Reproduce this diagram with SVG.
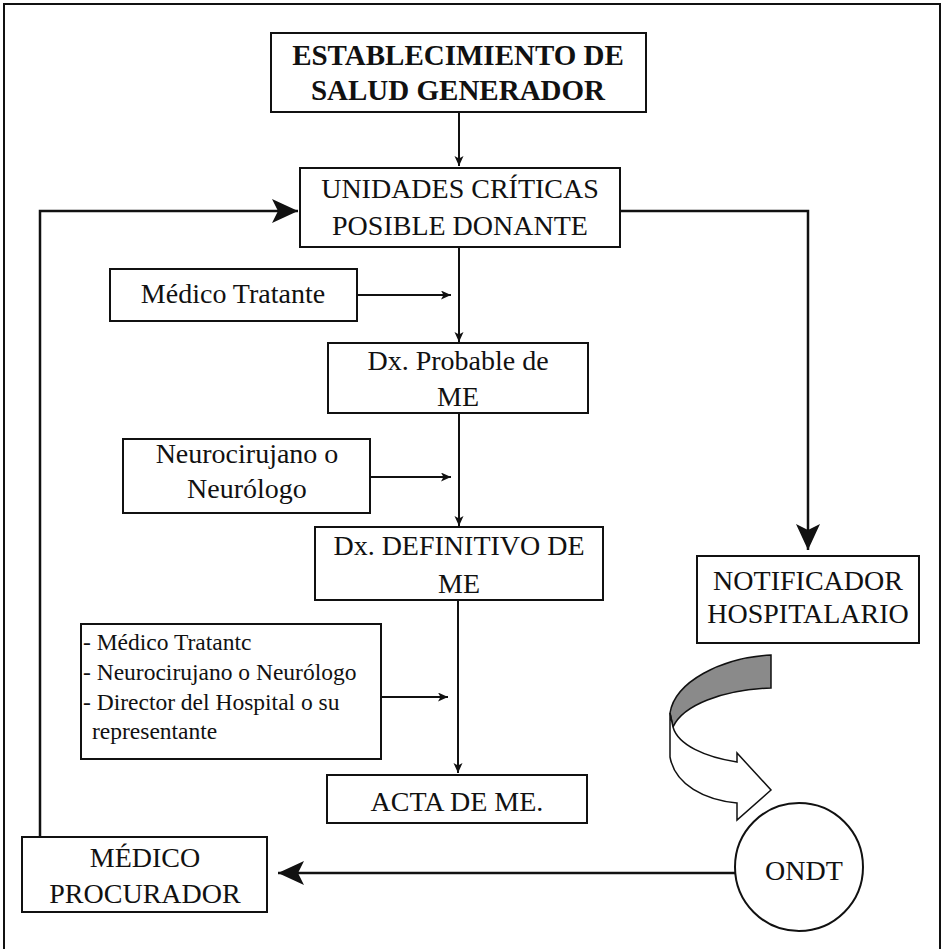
<svg xmlns="http://www.w3.org/2000/svg" width="946" height="949" viewBox="0 0 946 949">
<style>
.box{fill:#fff;stroke:#111;stroke-width:2}
.t{font-family:"Liberation Serif","Times New Roman",serif;font-size:28px;fill:#111;text-anchor:middle}
.b{font-weight:bold;font-size:29px}
.s{font-size:23.5px;text-anchor:start}
.ln{fill:none;stroke:#111;stroke-width:2}
.lk{fill:none;stroke:#111;stroke-width:2.5}
</style>
<defs>
<marker id="sm" markerUnits="userSpaceOnUse" markerWidth="12" markerHeight="10" refX="10" refY="4.5" orient="auto">
<path d="M0,0 L10,4.5 L0,9 L2.5,4.5 Z" fill="#111"/>
</marker>
<marker id="lg" markerUnits="userSpaceOnUse" markerWidth="30" markerHeight="26" refX="26" refY="12" orient="auto">
<path d="M0,0 L26,12 L0,24 L6,12 Z" fill="#111"/>
</marker>
</defs>
<rect x="4" y="4" width="936" height="960" fill="none" stroke="#111" stroke-width="2"/>
<g id="connectors">
<line class="ln" x1="459" y1="113" x2="459" y2="166" marker-end="url(#sm)"/>
<line class="ln" x1="459" y1="247" x2="459" y2="342" marker-end="url(#sm)"/>
<line class="ln" x1="459" y1="413" x2="459" y2="526" marker-end="url(#sm)"/>
<line class="ln" x1="458" y1="600" x2="458" y2="773" marker-end="url(#sm)"/>
<line class="ln" x1="357" y1="295" x2="451" y2="295" marker-end="url(#sm)"/>
<line class="ln" x1="370" y1="477" x2="451" y2="477" marker-end="url(#sm)"/>
<line class="ln" x1="381" y1="697" x2="448" y2="697" marker-end="url(#sm)"/>
<polyline class="lk" points="40,837 40,211 298,211" marker-end="url(#lg)"/>
<polyline class="lk" points="620,211 808,211 808,550" marker-end="url(#lg)"/>
<line class="lk" x1="735" y1="873" x2="278" y2="873" marker-end="url(#lg)"/>
<path d="M771,655 L771,688 C722,690 683,705 673,727 L670,713 C675,682 720,658 771,655 Z" fill="#8a8a8a" stroke="#111" stroke-width="1.5"/>
<path d="M670,713 L670,757 C675,785 705,800 737,803 L737,820 L771,790 L737,753 L737,762 C705,757 678,745 673,727 Z" fill="#fff" stroke="#111" stroke-width="1.5"/>
</g>
<g id="title">
<rect class="box" x="271" y="33" width="375" height="79"/>
<text class="t b" x="458" y="65">ESTABLECIMIENTO DE</text>
<text class="t b" x="458" y="100">SALUD GENERADOR</text>
</g>
<g id="unidades">
<rect class="box" x="300" y="168" width="320" height="79"/>
<text class="t" x="460" y="198">UNIDADES CRÍTICAS</text>
<text class="t" x="460" y="235">POSIBLE DONANTE</text>
</g>
<g id="medico-tratante">
<rect class="box" x="110" y="269" width="247" height="52"/>
<text class="t" x="233" y="303">Médico Tratante</text>
</g>
<g id="dx-probable">
<rect class="box" x="328" y="343" width="260" height="70"/>
<text class="t" x="458" y="370">Dx. Probable de</text>
<text class="t" x="458" y="406">ME</text>
</g>
<g id="neuro">
<rect class="box" x="123" y="439" width="247" height="74"/>
<text class="t" x="247" y="463">Neurocirujano o</text>
<text class="t" x="247" y="498">Neurólogo</text>
</g>
<g id="dx-definitivo">
<rect class="box" x="315" y="527" width="288" height="73"/>
<text class="t" x="459" y="555">Dx. DEFINITIVO DE</text>
<text class="t" x="459" y="593">ME</text>
</g>
<g id="equipo">
<rect class="box" x="81" y="624" width="300" height="135"/>
<text class="t s" x="83" y="650">- Médico Tratantc</text>
<text class="t s" x="83" y="680">- Neurocirujano o Neurólogo</text>
<text class="t s" x="83" y="710">- Director del Hospital o su</text>
<text class="t s" x="92" y="739">representante</text>
</g>
<g id="acta">
<rect class="box" x="327" y="775" width="260" height="48"/>
<text class="t" x="457" y="811">ACTA DE ME.</text>
</g>
<g id="procurador">
<rect class="box" x="22" y="837" width="245" height="75"/>
<text class="t" x="145" y="867">MÉDICO</text>
<text class="t" x="145" y="903">PROCURADOR</text>
</g>
<g id="notificador">
<rect class="box" x="697" y="556" width="222" height="87"/>
<text class="t" x="808" y="590">NOTIFICADOR</text>
<text class="t" x="808" y="623">HOSPITALARIO</text>
</g>
<g id="ondt">
<circle cx="799" cy="867" r="64" fill="#fff" stroke="#111" stroke-width="2"/>
<text class="t" x="804" y="880">ONDT</text>
</g>
</svg>
